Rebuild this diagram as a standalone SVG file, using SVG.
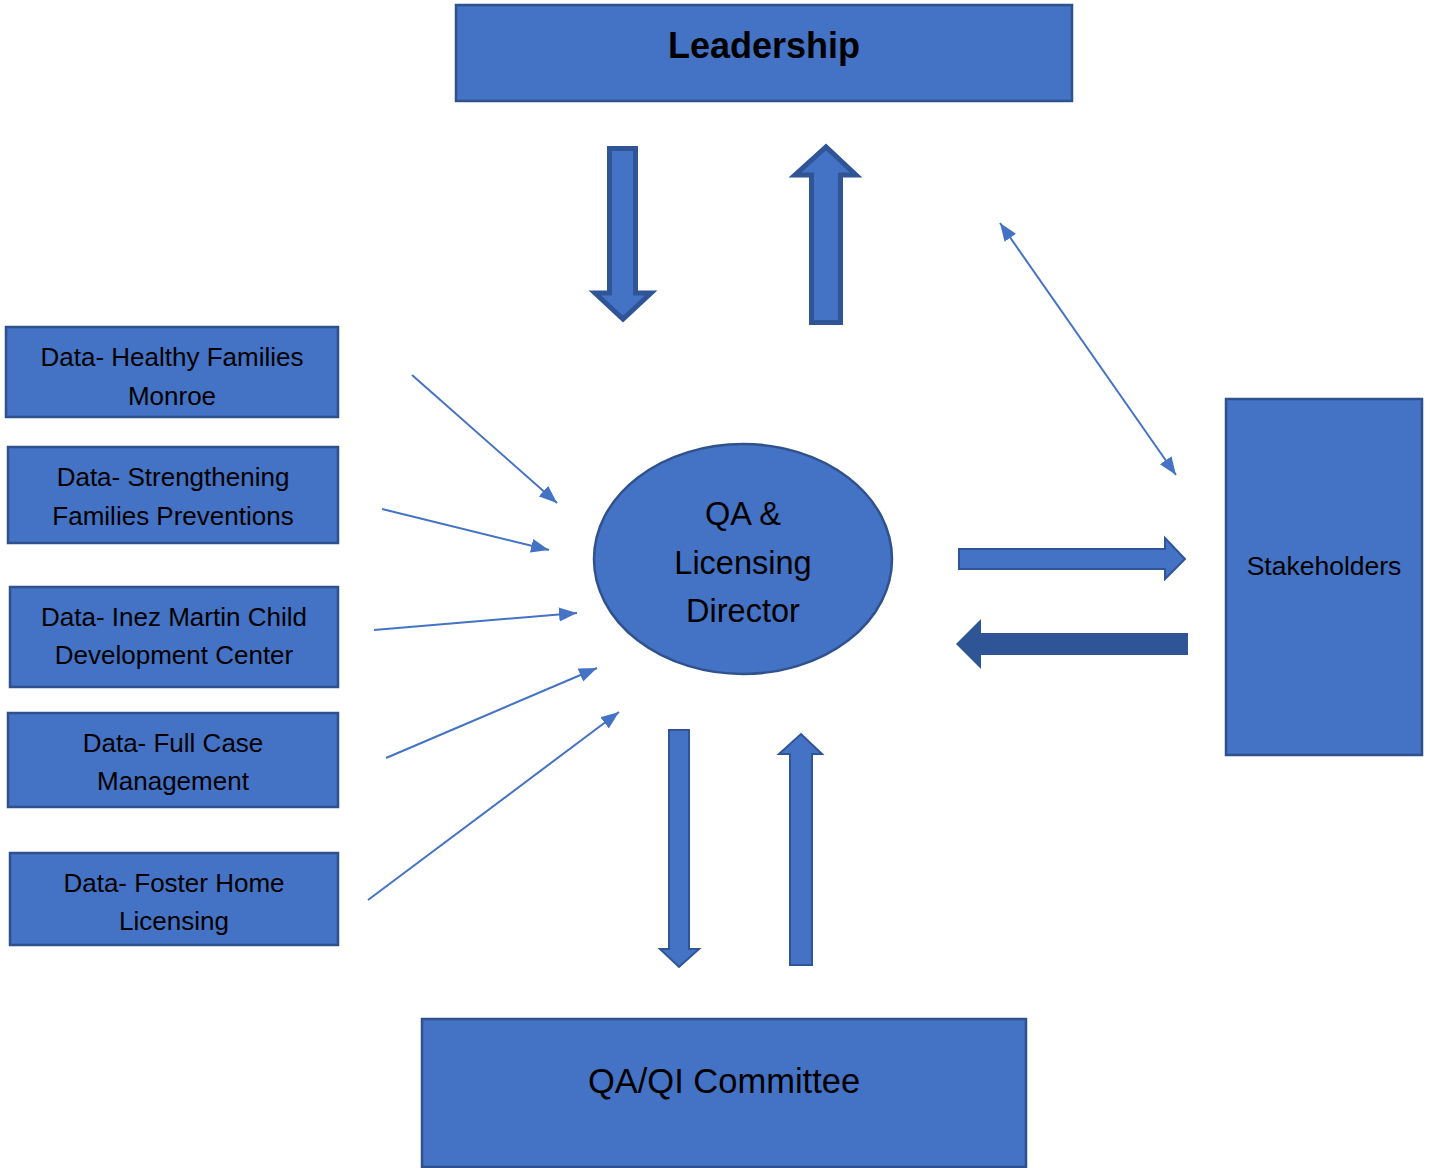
<svg xmlns="http://www.w3.org/2000/svg" width="1430" height="1168" viewBox="0 0 1430 1168">
<style>
.box{fill:#4472C4;stroke:#2F528F;stroke-width:2.5}
.t{font-family:"Liberation Sans",Arial,sans-serif;font-size:26px;fill:#000;text-anchor:middle}
.big{font-family:"Liberation Sans",Arial,sans-serif;font-size:32.5px;fill:#000;text-anchor:middle}
.thin{stroke:#4472C4;stroke-width:2;fill:none}
.blk{fill:#4472C4;stroke:#2F5597;stroke-width:5;stroke-linejoin:miter}
.blk2{fill:#4472C4;stroke:#2F5597;stroke-width:2}
</style>
<defs>
<marker id="ah" markerUnits="userSpaceOnUse" markerWidth="20" markerHeight="16" refX="18" refY="8" orient="auto">
<path d="M0,1 L18,8 L0,15 Z" fill="#4472C4"/>
</marker>
<marker id="ahs" markerUnits="userSpaceOnUse" markerWidth="20" markerHeight="16" refX="18" refY="8" orient="auto-start-reverse">
<path d="M0,1 L18,8 L0,15 Z" fill="#4472C4"/>
</marker>
</defs>
<g id="leadership"><rect class="box" x="456" y="5" width="616" height="96"/><text class="t" x="764" y="58" style="font-size:36px;font-weight:bold">Leadership</text></g>
<g id="data1"><rect class="box" x="6" y="327" width="332" height="90"/><text class="t" x="172" y="366">Data- Healthy Families</text><text class="t" x="172" y="405">Monroe</text></g>
<g id="data2"><rect class="box" x="8" y="447" width="330" height="96"/><text class="t" x="173" y="486">Data- Strengthening</text><text class="t" x="173" y="525">Families Preventions</text></g>
<g id="data3"><rect class="box" x="10" y="587" width="328" height="100"/><text class="t" x="174" y="626">Data- Inez Martin Child</text><text class="t" x="174" y="664">Development Center</text></g>
<g id="data4"><rect class="box" x="8" y="713" width="330" height="94"/><text class="t" x="173" y="752">Data- Full Case</text><text class="t" x="173" y="790">Management</text></g>
<g id="data5"><rect class="box" x="10" y="853" width="328" height="92"/><text class="t" x="174" y="892">Data- Foster Home</text><text class="t" x="174" y="930">Licensing</text></g>
<g id="director"><ellipse class="box" cx="743" cy="559" rx="149" ry="115"/><text class="big" x="743" y="525">QA &amp;</text><text class="big" x="743" y="574">Licensing</text><text class="big" x="743" y="622">Director</text></g>
<g id="stakeholders"><rect class="box" x="1226" y="399" width="196" height="356"/><text class="t" x="1324" y="575" style="font-size:26.5px">Stakeholders</text></g>
<g id="committee"><rect class="box" x="422" y="1019" width="604" height="148"/><text class="big" x="724" y="1093" style="font-size:34.5px">QA/QI Committee</text></g>
<g id="connectors">
<path class="blk" d="M609.5,148.5 H635.5 V293 H651 L623,319 L595,293 H609.5 Z"/>
<path class="blk" d="M811.5,322.5 H840.5 V175 H856 L826,147 L795,175 H811.5 Z"/>
<path class="blk2" d="M959,549 H1165 V538 L1185,559 L1165,579 V569 H959 Z"/>
<path d="M1188,633 H981 V619 L956,644 L981,669 V655 H1188 Z" fill="#2F5597"/>
<path class="blk2" d="M669,730 H689 V949 H699 L679,967 L660,949 H669 Z"/>
<path class="blk2" d="M790,965 H812 V754 H822 L801,734 L779,754 H790 Z"/>
<line class="thin" x1="1000" y1="223" x2="1176" y2="475" marker-start="url(#ahs)" marker-end="url(#ah)"/>
<line class="thin" x1="412" y1="375" x2="557" y2="503" marker-end="url(#ah)"/>
<line class="thin" x1="382" y1="509" x2="549" y2="550" marker-end="url(#ah)"/>
<line class="thin" x1="374" y1="630" x2="577" y2="613" marker-end="url(#ah)"/>
<line class="thin" x1="386" y1="758" x2="597" y2="668" marker-end="url(#ah)"/>
<line class="thin" x1="368" y1="900" x2="619" y2="712" marker-end="url(#ah)"/>
</g>
</svg>
